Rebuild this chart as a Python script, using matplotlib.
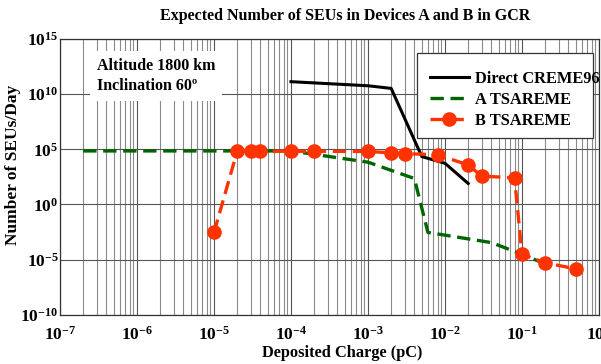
import numpy as np
import matplotlib.pyplot as plt
from matplotlib.patches import Rectangle
from matplotlib.ticker import LogLocator, FixedLocator, NullLocator

plt.rcParams["font.family"] = ["Liberation Serif", "DejaVu Serif"]
plt.rcParams["font.weight"] = "bold"
plt.rcParams["mathtext.fontset"] = "custom"
plt.rcParams["mathtext.rm"] = "Liberation Serif:bold"
plt.rcParams["mathtext.it"] = "Liberation Serif:bold"
plt.rcParams["mathtext.bf"] = "Liberation Serif:bold"

# Data (log10 of SEUs/day)
creme_x = [1e-4, 1e-3, 2e-3, 5e-3, 1e-2, 2e-2]
creme_logy = [11.13, 10.76, 10.52, 4.34, 3.73, 1.9]

a_x = [2e-7, 1e-4, 1e-3, 4e-3, 6e-3, 4e-2, 1e-1, 2e-1]
a_logy = [4.85, 4.85, 3.83, 2.35, -2.54, -3.46, -4.52, -5.4]

b_x = [1e-5, 2e-5, 3e-5, 4e-5, 1e-4, 2e-4, 1e-3, 2e-3, 3e-3, 8e-3, 2e-2, 3e-2, 8e-2, 1e-1, 2e-1, 5e-1]
b_logy = [-2.54, 4.82, 4.82, 4.82, 4.82, 4.82, 4.8, 4.68, 4.61, 4.5, 3.58, 2.57, 2.41, -4.52, -5.3, -5.84]

x_ticks = [1e-7, 1e-6, 1e-5, 1e-4, 1e-3, 1e-2, 1e-1, 1e0]
y_ticks = [1e-10, 1e-5, 1e0, 1e5, 1e10, 1e15]

W, H = 601, 364
fig = plt.figure(figsize=(W / 100, H / 100), dpi=100)
ax = fig.add_axes([60 / W, 1 - 314.7 / H, 539 / W, 275.7 / H])

ax.plot(creme_x, 10 ** np.array(creme_logy), color="black", lw=2.2,
        label="Direct CREME96", zorder=3)
ax.plot(a_x, 10 ** np.array(a_logy), color="#006400", lw=2.4,
        dashes=(4, 2), label="A TSAREME", zorder=4)
ax.plot(b_x, 10 ** np.array(b_logy), color="#ff3300", lw=2.4,
        dashes=(4, 2), marker="o", markersize=9.5, label="B TSAREME", zorder=5)

ax.set_xscale("log")
ax.set_yscale("log")
ax.set_xlim(1e-7, 1e0)
ax.set_ylim(1e-10, 1e15)

ax.xaxis.set_major_locator(FixedLocator(x_ticks))
ax.xaxis.set_minor_locator(LogLocator(base=10, subs=np.arange(2, 10), numticks=20))
ax.yaxis.set_major_locator(FixedLocator(y_ticks))
ax.yaxis.set_minor_locator(NullLocator())
ax.set_xticklabels([r"$10^{%d}$" % int(np.log10(v)) for v in x_ticks])
ax.set_yticklabels([r"$10^{%d}$" % int(np.log10(v)) for v in y_ticks])
ax.tick_params(which="both", length=0, labelsize=12.5)
ax.tick_params(axis="x", pad=8)
ax.tick_params(axis="y", pad=1)

# Grid
ax.grid(which="major", axis="both", color="#555555", lw=0.8)
ax.grid(which="minor", axis="x", color="#8a8a8a", lw=0.8)
ax.set_axisbelow(True)
for s in ax.spines.values():
    s.set_color("#333333")
    s.set_linewidth(0.9)

# Title and axis labels (title / x label sit a bit right of the axes centre)
fig.text(345.5 / W, 1 - 16 / H, "Expected Number of SEUs in Devices A and B in GCR",
         fontsize=11.55, fontweight="bold", ha="center", va="center")
ax.set_xlabel("Deposited Charge (pC)", fontsize=11.8, fontweight="bold")
ax.xaxis.set_label_coords((342.5 - 60) / 539, -(353 - 314.7) / 275.7)
ax.xaxis.label.set_va("center")
ax.set_ylabel("Number of SEUs/Day", fontsize=12.5, fontweight="bold")
ax.yaxis.set_label_coords(-(60 - 13) / 539, (314.7 - 165) / 275.7)
ax.yaxis.label.set_va("center")

# Annotation box
ax.text(97 / W, 1 - 76 / H, "Altitude 1800 km\nInclination 60\u00ba",
        transform=fig.transFigure, fontsize=11.5, fontweight="bold",
        va="center", ha="left", linespacing=1.3,
        bbox=dict(facecolor="white", edgecolor="none", pad=5), zorder=6)

# Legend: frame drawn separately (text runs slightly past the box in the original)
fig.patches.append(Rectangle((417 / W, 1 - 138 / H), 176 / W, 85 / H,
                             transform=fig.transFigure, facecolor="white",
                             edgecolor="#333333", lw=0.9, zorder=6))
handles, labels = ax.get_legend_handles_labels()
leg = fig.legend(handles, labels, loc="upper left",
                 bbox_to_anchor=(430 / W, 1 - 71 / H), bbox_transform=fig.transFigure,
                 borderaxespad=0, borderpad=0, frameon=False, fontsize=11.8,
                 handlelength=2.35, handletextpad=0.4, labelspacing=0.3)
leg.set_zorder(7)

fig.savefig("out.png", dpi=100)
